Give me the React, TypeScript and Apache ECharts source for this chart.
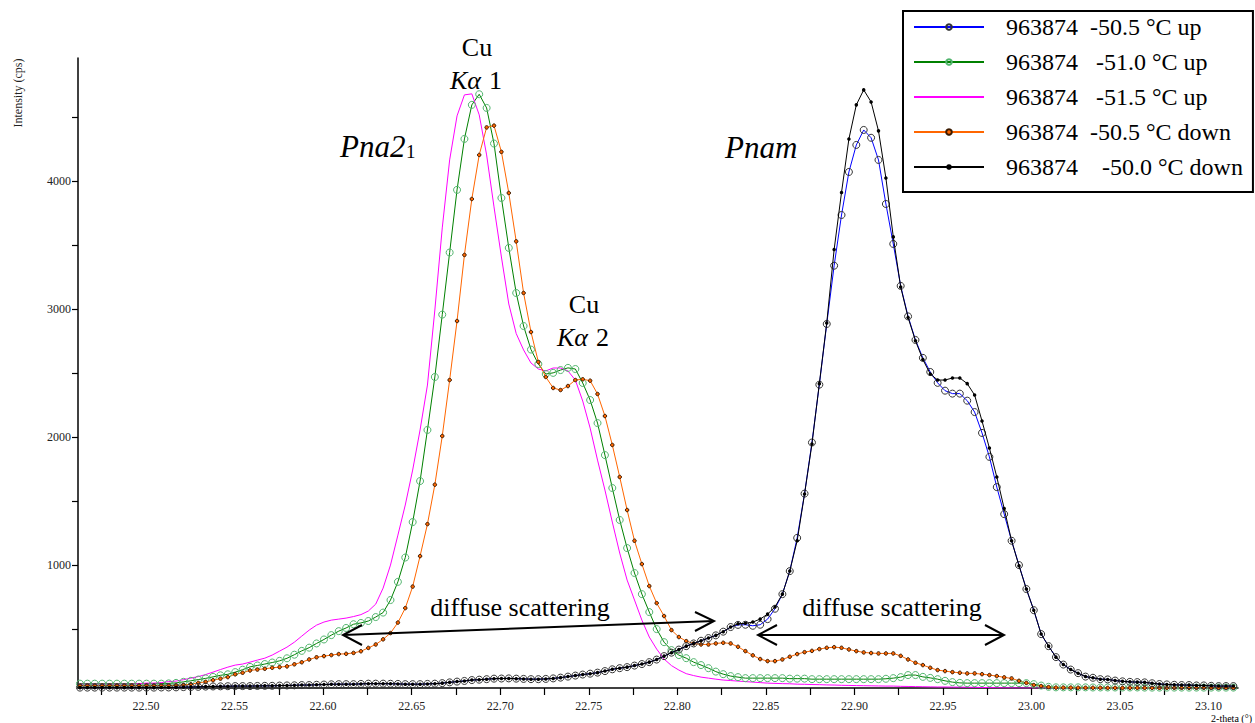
import React, { useEffect, useRef } from 'react';
import * as echarts from 'echarts';

// ---- scan grid (2-theta, degrees) ----
const TWO_THETA_START = 22.4627;
const TWO_THETA_STEP = 0.004175;

// ---- axis ticks / labels ----
const X_TICKS = [22.475, 22.5, 22.525, 22.55, 22.575, 22.6, 22.625, 22.65, 22.675, 22.7, 22.725, 22.75, 22.775, 22.8, 22.825, 22.85, 22.875, 22.9, 22.925, 22.95, 22.975, 23.0, 23.025, 23.05, 23.075, 23.1];
const X_LABELS = [22.5, 22.55, 22.6, 22.65, 22.7, 22.75, 22.8, 22.85, 22.9, 22.95, 23.0, 23.05, 23.1];
const Y_TICKS = [500, 1000, 1500, 2000, 2500, 3000, 3500, 4000, 4500];
const Y_LABELS = [1000, 2000, 3000, 4000];

// ---- series names ----
const NAMES = [
  '963874  -50.5 °C up',
  '963874   -51.0 °C up',
  '963874   -51.5 °C up',
  '963874  -50.5 °C down',
  '963874    -50.0 °C down',
];

// ---- intensities (cps) ----
const UP_505 = [
  43, 43, 43, 43, 43, 43, 43, 43, 43, 43, 43,
  44, 44, 45, 47, 48, 49, 51, 52, 53, 54,
  55, 55, 55, 56, 57, 57, 59, 60, 61, 63,
  63, 65, 67, 69, 70, 70, 70, 72, 74, 74,
  74, 73, 72, 70, 70, 70, 72, 74, 78, 84,
  90, 95, 102, 105, 109, 113, 114, 115, 113, 111,
  109, 109, 111, 115, 121, 129, 137, 145, 152, 160,
  172, 186, 195, 203, 215, 227, 242, 262, 289, 316,
  340, 367, 388, 409, 430, 451, 480, 516, 533, 534,
  526, 534, 578, 659, 773, 953, 1212, 1558, 1957, 2409,
  2883, 3338, 3734, 4070, 4281, 4398, 4337, 4164, 3820, 3508,
  3180, 2942, 2758, 2618, 2508, 2423, 2362, 2339, 2339, 2284,
  2195, 2032, 1845, 1609, 1398, 1190, 1000, 813, 648, 461,
  367, 281, 223, 184, 156, 129, 120, 109, 107, 98,
  92, 88, 86, 84, 77, 71, 68, 65, 63, 63,
  60, 60, 57, 55, 55, 55,
];

const UP_510 = [
  74, 74, 74, 74, 74, 74, 74, 74, 74, 74, 74, 74,
  76,
  80, 88, 96, 106, 115, 127, 139, 147,
  164, 183, 205, 216, 227, 239, 252, 272, 300, 330,
  355, 388, 419, 453, 484, 509, 538, 548, 563, 594,
  629, 727, 869, 1059, 1336, 1656, 2055, 2469, 2956, 3441,
  3930, 4328, 4594, 4677, 4570, 4292, 3867, 3477, 3125, 2867,
  2683, 2570, 2492, 2501, 2523, 2540, 2531, 2422, 2289, 2109,
  1859, 1602, 1352, 1133, 938, 773, 633, 500, 398, 336,
  297, 273, 242, 219, 195, 168, 148, 133, 125, 117,
  117, 117, 117, 117, 117, 113, 113, 113, 109, 109,
  109, 109, 109, 109, 109, 109, 109, 109, 112, 117,
  125, 141, 141, 127, 119, 109, 96, 86, 80, 78,
  78, 78, 78, 78, 78, 78, 78, 78, 70, 59,
  49, 45, 45, 45, 45, 45, 44, 44, 44, 44,
  44, 44, 44, 43, 43, 43, 43, 43, 43, 43,
  43, 43, 43, 43, 43, 43,
];

const UP_515 = [
  70, 70, 70, 70, 70, 70, 70, 70, 74, 78, 78,
  82, 90, 94, 105, 117, 129, 145, 164, 184, 203,
  219, 227, 242, 258, 273, 297, 328, 359, 398, 445,
  492, 531, 555, 570, 578, 586, 598, 613, 641, 695,
  820, 1000, 1234, 1469, 1742, 2055, 2406, 2992, 3633, 4164,
  4508, 4672, 4680, 4516, 4203, 3797, 3406, 3039, 2808, 2680,
  2578, 2531, 2516, 2539, 2539, 2516, 2445, 2281, 2070, 1820,
  1586, 1336, 1094, 883, 727, 570, 438, 344, 266, 215,
  180, 152, 137, 125, 117, 109, 102, 98, 94, 90,
  86, 82, 78, 76, 74, 73, 70, 69, 67, 66,
  64, 63, 61, 60, 59, 58, 57, 56, 55, 55,
  53, 52, 51, 50, 49, 48, 48, 47, 47, 46,
  45, 44, 43, 42, 41, 41, 40, 40, 40, 40,
  40, 40, 40, 40, 40, 40, 40, 40, 40, 40, 40, 40, 40,
  40, 40, 40, 40, 40, 40, 40, 40, 40, 40, 40, 40, 40,
];

const DOWN_505 = [
  59, 59, 59, 59, 59, 59, 59, 59, 59, 59, 59, 59, 59,
  60, 64, 70, 80, 88, 101, 113, 125,
  147, 159, 177, 184, 190, 198, 203, 209, 225, 241,
  263, 280, 289, 297, 305, 307, 314, 327, 353, 380,
  420, 469, 551, 664, 832, 1070, 1320, 1628, 2008, 2445,
  2906, 3422, 3859, 4203, 4418, 4432, 4227, 3906, 3528, 3125,
  2820, 2586, 2469, 2383, 2367, 2398, 2445, 2451, 2440, 2336,
  2164, 1938, 1688, 1430, 1190, 1008, 836, 703, 602, 492,
  438, 406, 388, 380, 380, 388, 393, 388, 362, 328,
  295, 266, 250, 250, 263, 284, 305, 320, 330, 344,
  354, 359, 354, 341, 328, 318, 313, 310, 310, 310,
  291, 263, 237, 219, 198, 180, 172, 164, 159, 154,
  154, 148, 141, 133, 123, 115, 96, 80, 63, 55,
  47, 43, 43, 43, 42, 42, 42, 42, 41, 41,
  41, 41, 41, 41, 41, 41, 41, 41, 41, 41,
  41, 41, 41, 41, 41, 41,
];

const DOWN_500 = [
  43, 43, 43, 43, 43, 43, 43, 43, 43, 43, 43,
  44, 44, 45, 47, 48, 49, 51, 52, 53, 54,
  55, 55, 55, 56, 57, 57, 59, 60, 61, 63,
  63, 65, 67, 69, 70, 70, 70, 72, 74, 74,
  74, 73, 72, 70, 70, 70, 72, 74, 78, 84,
  90, 95, 102, 105, 109, 113, 114, 115, 113, 111,
  109, 109, 111, 115, 121, 129, 137, 145, 152, 160,
  172, 186, 195, 203, 215, 227, 242, 262, 289, 316,
  340, 367, 388, 409, 430, 451, 480, 516, 542, 545,
  555, 578, 617, 673, 773, 953, 1190, 1555, 1945, 2417,
  2891, 3464, 3910, 4328, 4594, 4711, 4617, 4391, 4023, 3563,
  3172, 2934, 2752, 2605, 2492, 2445, 2445, 2461, 2461, 2417,
  2328, 2125, 1914, 1688, 1441, 1190, 995, 813, 648, 461,
  367, 281, 223, 184, 156, 129, 120, 109, 107, 98,
  92, 88, 86, 84, 77, 71, 68, 65, 63, 63,
  60, 60, 57, 55, 55, 55,
];

const FONT = 'Times New Roman, Liberation Serif, DejaVu Serif, serif';

function pairs(values: number[]) {
  return values.map((v, i) => [+(TWO_THETA_START + TWO_THETA_STEP * i).toFixed(5), v]);
}

function arrow(x1: number, y1: number, x2: number, y2: number, heads: number[][][]) {
  const els: any[] = [
    { type: 'line', z: 100, shape: { x1, y1, x2, y2 }, style: { stroke: '#000', lineWidth: 2 } },
  ];
  heads.forEach((h) => {
    els.push({ type: 'polyline', z: 100, shape: { points: h }, style: { stroke: '#000', lineWidth: 2, fill: null } });
  });
  return els;
}

function txt(x: number, y: number, text: string, size: number, italic: boolean, align = 'center') {
  return {
    type: 'text',
    z: 100,
    x,
    y,
    style: {
      text,
      font: `${italic ? 'italic' : 'normal'} normal ${size}px ${FONT}`,
      fontFamily: FONT,
      fontSize: size,
      fontStyle: italic ? 'italic' : 'normal',
      fill: '#000',
      textAlign: align,
      textVerticalAlign: 'middle',
    },
  };
}

export default function App() {
  const ref = useRef<HTMLDivElement>(null);

  useEffect(() => {
    if (!ref.current) return;
    const chart = echarts.init(ref.current, null, { renderer: 'svg' });

    const hollow = (c: string) => ({ color: 'rgba(255,255,255,0)', borderColor: c, borderWidth: 1 });

    const option: any = {
      animation: false,
      backgroundColor: '#ffffff',
      textStyle: { fontFamily: FONT },
      grid: { left: 78, top: 58, width: 1160, height: 630, containLabel: false },
      xAxis: {
        type: 'value',
        min: 22.4616,
        max: 23.1166,
        axisLine: { show: true, onZero: false, lineStyle: { color: '#000', width: 1.5 } },
        axisTick: { show: true, length: 7, customValues: X_TICKS, lineStyle: { color: '#000', width: 1.2 } },
        axisLabel: {
          customValues: X_LABELS,
          formatter: (v: number) => v.toFixed(2),
          fontFamily: FONT,
          fontSize: 12,
          color: '#222',
          margin: 12,
        },
        splitLine: { show: false },
      },
      yAxis: {
        type: 'value',
        min: 40,
        max: 4960,
        axisLine: { show: true, lineStyle: { color: '#000', width: 1.5 } },
        axisTick: { show: true, length: 6, customValues: Y_TICKS, lineStyle: { color: '#000', width: 1.2 } },
        axisLabel: {
          customValues: Y_LABELS,
          formatter: (v: number) => String(v),
          fontFamily: FONT,
          fontSize: 12,
          color: '#222',
          margin: 7,
        },
        splitLine: { show: false },
      },
      legend: {
        orient: 'vertical',
        left: 903,
        top: 11,
        padding: [4, 10, 13, 10],
        itemGap: 11,
        itemWidth: 70,
        itemHeight: 7,
        borderColor: '#000',
        borderWidth: 2,
        backgroundColor: '#fff',
        selectedMode: false,
        textStyle: { fontFamily: FONT, fontSize: 24, color: '#000', padding: [0, 0, 0, 17] },
        data: [
          { name: NAMES[0] },
          { name: NAMES[1] },
          { name: NAMES[2], itemStyle: { opacity: 0 } },
          { name: NAMES[3] },
          { name: NAMES[4] },
        ],
      },
      series: [
        {
          name: NAMES[0],
          type: 'line',
          data: pairs(UP_505),
          symbol: 'circle',
          symbolSize: 7,
          lineStyle: { color: '#0000ff', width: 1 },
          itemStyle: hollow('#333'),
          z: 3,
        },
        {
          name: NAMES[1],
          type: 'line',
          data: pairs(UP_510),
          symbol: 'circle',
          symbolSize: 7,
          lineStyle: { color: '#008000', width: 1 },
          itemStyle: hollow('#52b56e'),
          z: 2,
        },
        {
          name: NAMES[2],
          type: 'line',
          data: pairs(UP_515),
          symbol: 'none',
          lineStyle: { color: '#ff00ff', width: 1 },
          itemStyle: { color: '#ff00ff' },
          z: 2,
        },
        {
          name: NAMES[3],
          type: 'line',
          data: pairs(DOWN_505),
          symbol: 'circle',
          symbolSize: 3.5,
          lineStyle: { color: '#ff6600', width: 1 },
          itemStyle: { color: '#ff6600', borderColor: '#3a1a00', borderWidth: 1 },
          z: 2,
        },
        {
          name: NAMES[4],
          type: 'line',
          data: pairs(DOWN_500),
          symbol: 'circle',
          symbolSize: 3.5,
          lineStyle: { color: '#000000', width: 1 },
          itemStyle: { color: '#000000' },
          z: 4,
        },
      ],
      graphic: [
        {
          type: 'text',
          z: 100,
          x: 18,
          y: 93,
          rotation: Math.PI / 2,
          style: {
            text: 'Intensity (cps)',
            font: `normal normal 12px ${FONT}`,
            fontFamily: FONT,
            fontSize: 12,
            fill: '#222',
            textAlign: 'center',
            textVerticalAlign: 'middle',
          },
        },
        txt(1252, 718, '2-theta (°)', 10, false, 'right'),
        txt(477, 47, 'Cu', 26, false),
        txt(450, 80, 'Kα', 26, true, 'left'),
        txt(489, 80, '1', 26, false, 'left'),
        txt(584, 304, 'Cu', 26, false),
        txt(557, 337, 'Kα', 26, true, 'left'),
        txt(596, 337, '2', 26, false, 'left'),
        txt(340, 146, 'Pna2', 31, true, 'left'),
        txt(406, 151, '1', 19, false, 'left'),
        txt(725, 147, 'Pnam', 31, true, 'left'),
        txt(520, 607, 'diffuse scattering', 26, false),
        txt(892, 607, 'diffuse scattering', 26, false),
        ...arrow(343, 635, 714, 621, [
          [[362, 625], [343, 635], [362, 645]],
          [[695, 612], [714, 621], [695, 631]],
        ]),
        ...arrow(758, 635, 1004, 635, [
          [[777, 625], [758, 635], [777, 645]],
          [[985, 625], [1004, 635], [985, 645]],
        ]),
      ],
    };

    chart.setOption(option);
    return () => chart.dispose();
  }, []);

  return (
    <div
      ref={ref}
      style={{ position: 'fixed', left: 0, top: 0, width: 1255, height: 723, background: '#fff' }}
    />
  );
}
